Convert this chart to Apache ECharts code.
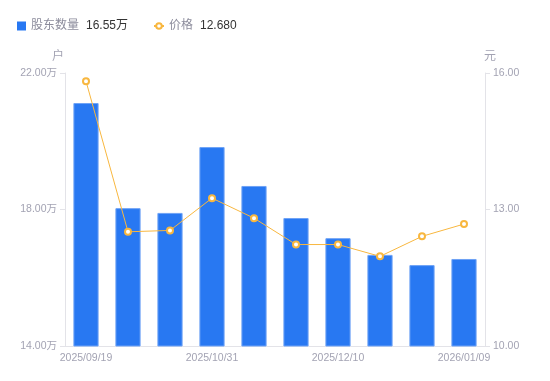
<!DOCTYPE html>
<html><head><meta charset="utf-8">
<script src="https://cdn.jsdelivr.net/npm/echarts@6/dist/echarts.min.js"></script>
<style>html,body{margin:0;padding:0;background:#fff}#c{width:550px;height:381px}</style>
</head><body><div id="c"></div>
<script>
const categories = ['2025/09/19','2025/09/30','2025/10/20','2025/10/31','2025/11/10','2025/11/28','2025/12/10','2025/12/19','2025/12/31','2026/01/09'];
const holders = [21.12, 18.04, 17.90, 19.83, 18.69, 17.75, 17.16, 16.67, 16.37, 16.55];
const prices = [15.82, 12.51, 12.54, 13.25, 12.81, 12.23, 12.23, 11.97, 12.41, 12.68];
const leftTicks = [14, 22, 4];
const rightTicks = [10, 16, 3];

const chart = echarts.init(document.getElementById('c'));
const ff = 'Liberation Sans, Arial, Noto Sans CJK SC, sans-serif';
const gray = '#a3a3b3';
const legendText = {
  rich: {
    a: {color: '#8c8c9c', fontSize: 12, fontFamily: ff},
    b: {color: '#333', fontSize: 12, fontFamily: ff, padding: [0, 0, 0, 7]}
  }
};
const fmt = function (n) {
  const v = n === '股东数量' ? holders[holders.length-1].toFixed(2) + '万' : prices[prices.length-1].toFixed(3);
  return '{a|' + n + '}{b|' + v + '}';
};
chart.setOption({
  animation: false,
  textStyle: {fontFamily: ff},
  legend: [{
    left: 12, top: 15, itemWidth: 9, itemHeight: 9, itemGap: 4,
    data: [{name: '股东数量', icon: 'rect'}],
    itemStyle: {borderWidth: 0},
    formatter: fmt, textStyle: legendText
  }, {
    left: 148, top: 15, itemWidth: 10, itemHeight: 7, itemGap: 4,
    data: [{name: '价格'}],
    formatter: fmt, textStyle: legendText
  }],
  grid: {left: 65, right: 65, top: 73, bottom: 35},
  xAxis: {
    type: 'category', data: categories,
    axisLine: {lineStyle: {color: '#e3e3e8'}},
    axisTick: {show: false},
    axisLabel: {color: gray, fontSize: 10.5, interval: 2, margin: 7}
  },
  yAxis: [{
    type: 'value', min: leftTicks[0], max: leftTicks[1], interval: leftTicks[2],
    name: '户', nameTextStyle: {color: gray, fontSize: 12, padding: [0, 14, 0, 0]}, nameGap: 10,
    axisLine: {show: true, lineStyle: {color: '#e3e3e8'}},
    axisTick: {show: true, length: 5, lineStyle: {color: '#e3e3e8'}},
    splitLine: {show: false},
    axisLabel: {color: gray, fontSize: 10.5, margin: 8, formatter: v => v.toFixed(2) + '万'}
  }, {
    type: 'value', min: rightTicks[0], max: rightTicks[1], interval: rightTicks[2],
    name: '元', nameTextStyle: {color: gray, fontSize: 12, padding: [0, 0, 0, 10]}, nameGap: 10,
    axisLine: {show: true, lineStyle: {color: '#e3e3e8'}},
    axisTick: {show: true, length: 5, lineStyle: {color: '#e3e3e8'}},
    splitLine: {show: false},
    axisLabel: {color: gray, fontSize: 10.5, margin: 8, formatter: v => v.toFixed(2)}
  }],
  series: [{
    name: '股东数量', type: 'bar', data: holders, barWidth: '60%',
    itemStyle: {color: '#2878f2', borderColor: '#6fa3f6', borderWidth: 1}
  }, {
    name: '价格', type: 'line', yAxisIndex: 1, data: prices,
    symbol: 'emptyCircle', symbolSize: 6,
    lineStyle: {color: '#f8b73f', width: 1},
    itemStyle: {color: '#f8b73f', borderWidth: 2}
  }]
});
</script></body></html>
